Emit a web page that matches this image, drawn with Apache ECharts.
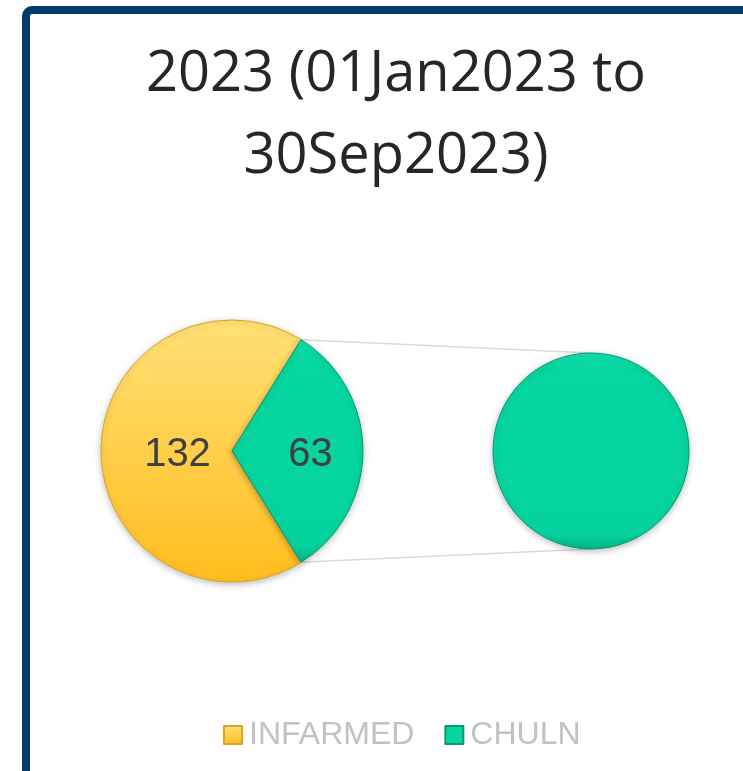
<!DOCTYPE html>
<html>
<head>
<meta charset="utf-8">
<script src="https://cdn.jsdelivr.net/npm/echarts@6/dist/echarts.min.js"></script>
<style>
html,body{margin:0;padding:0;background:#fff;}
#chart{width:743px;height:771px;}
</style>
</head>
<body>
<div id="chart"></div>
<script>
var titleLines = ['2023 (01Jan2023 to', '30Sep2023)'];
var categories = ['INFARMED', 'CHULN'];
var values = [132, 63];
var splitCategories = ['CHULN'];
var splitValues = [63];

var colors = {
  INFARMED: new echarts.graphic.LinearGradient(0, 0, 0, 1, [
    {offset: 0, color: '#FFE176'}, {offset: 1, color: '#FFBD1E'}
  ]),
  CHULN: new echarts.graphic.LinearGradient(0, 0, 0, 1, [
    {offset: 0, color: '#12E0AE'}, {offset: 0.08, color: '#06D6A0'}, {offset: 0.92, color: '#05D39E'}, {offset: 1, color: '#03B386'}
  ])
};
var borders = {INFARMED: '#D9A520', CHULN: '#049A72'};

var mainCenter = [232, 451], mainR = 131;
var subCenter = [591, 451], subR = 98;

var total = values.reduce(function (a, b) { return a + b; }, 0);
var splitTotal = splitValues.reduce(function (a, b) { return a + b; }, 0);
var half = splitTotal / total * 180;

var mainData = categories.map(function (c, i) {
  return {name: c, value: values[i], itemStyle: {color: colors[c], borderColor: borders[c]}};
});
var subData = splitCategories.map(function (c, i) {
  return {name: c, value: splitValues[i], itemStyle: {color: colors[c], borderColor: borders[c]}};
});

// connector end points derived from the split angle
var rad = half * Math.PI / 180;
var p1 = [mainCenter[0] + mainR * Math.cos(rad), mainCenter[1] - mainR * Math.sin(rad)];
var p2 = [mainCenter[0] + mainR * Math.cos(rad), mainCenter[1] + mainR * Math.sin(rad)];
var q1 = [subCenter[0], subCenter[1] - subR];
var q2 = [subCenter[0], subCenter[1] + subR];

var chart = echarts.init(document.getElementById('chart'));
chart.setOption({
  backgroundColor: '#ffffff',
  animation: false,
  title: {
    text: titleLines.join('\n'),
    left: 391,
    top: 29,
    textAlign: 'center',
    textStyle: {
      fontFamily: 'Open Sans',
      fontWeight: 'normal',
      fontSize: 56,
      lineHeight: 82,
      color: '#262626'
    }
  },
  legend: {
    data: categories,
    top: 719,
    left: 223,
    padding: 0,
    itemWidth: 18,
    itemHeight: 18,
    itemGap: 30,
    icon: 'rect',
    textStyle: {fontFamily: 'Liberation Sans, Arial', fontSize: 32, color: '#BFC3C7', padding: [0, 0, 0, 2]}
  },
  graphic: [
    {type: 'rect', shape: {x: 26, y: 10, width: 800, height: 900, r: 6},
     style: {fill: 'none', stroke: '#003B71', lineWidth: 8}, silent: true},
    {type: 'line', shape: {x1: p1[0], y1: p1[1], x2: q1[0], y2: q1[1]},
     style: {stroke: '#D9D9D9', lineWidth: 1.5}, silent: true, z: 0},
    {type: 'line', shape: {x1: p2[0], y1: p2[1], x2: q2[0], y2: q2[1]},
     style: {stroke: '#D9D9D9', lineWidth: 1.5}, silent: true, z: 0}
  ],
  series: [
    {
      type: 'pie',
      name: 'main',
      center: mainCenter,
      radius: mainR,
      startAngle: -half,
      clockwise: true,
      avoidLabelOverlap: false,
      itemStyle: {borderWidth: 1, shadowBlur: 6, shadowColor: 'rgba(0,0,0,0.25)', shadowOffsetY: 2},
      label: {
        show: true,
        position: 'inside',
        formatter: '{c}',
        fontFamily: 'Liberation Sans, Arial',
        fontSize: 40,
        color: '#404040'
      },
      labelLayout: function (p) { return {dx: p.dataIndex === 0 ? 14 : 10, dy: 4}; },
      emphasis: {disabled: true},
      data: mainData
    },
    {
      type: 'pie',
      name: 'split',
      center: subCenter,
      radius: subR,
      label: {show: false},
      labelLine: {show: false},
      itemStyle: {borderWidth: 1, shadowBlur: 6, shadowColor: 'rgba(0,0,0,0.25)', shadowOffsetY: 2},
      emphasis: {disabled: true},
      data: subData
    }
  ]
});
</script>
</body>
</html>
